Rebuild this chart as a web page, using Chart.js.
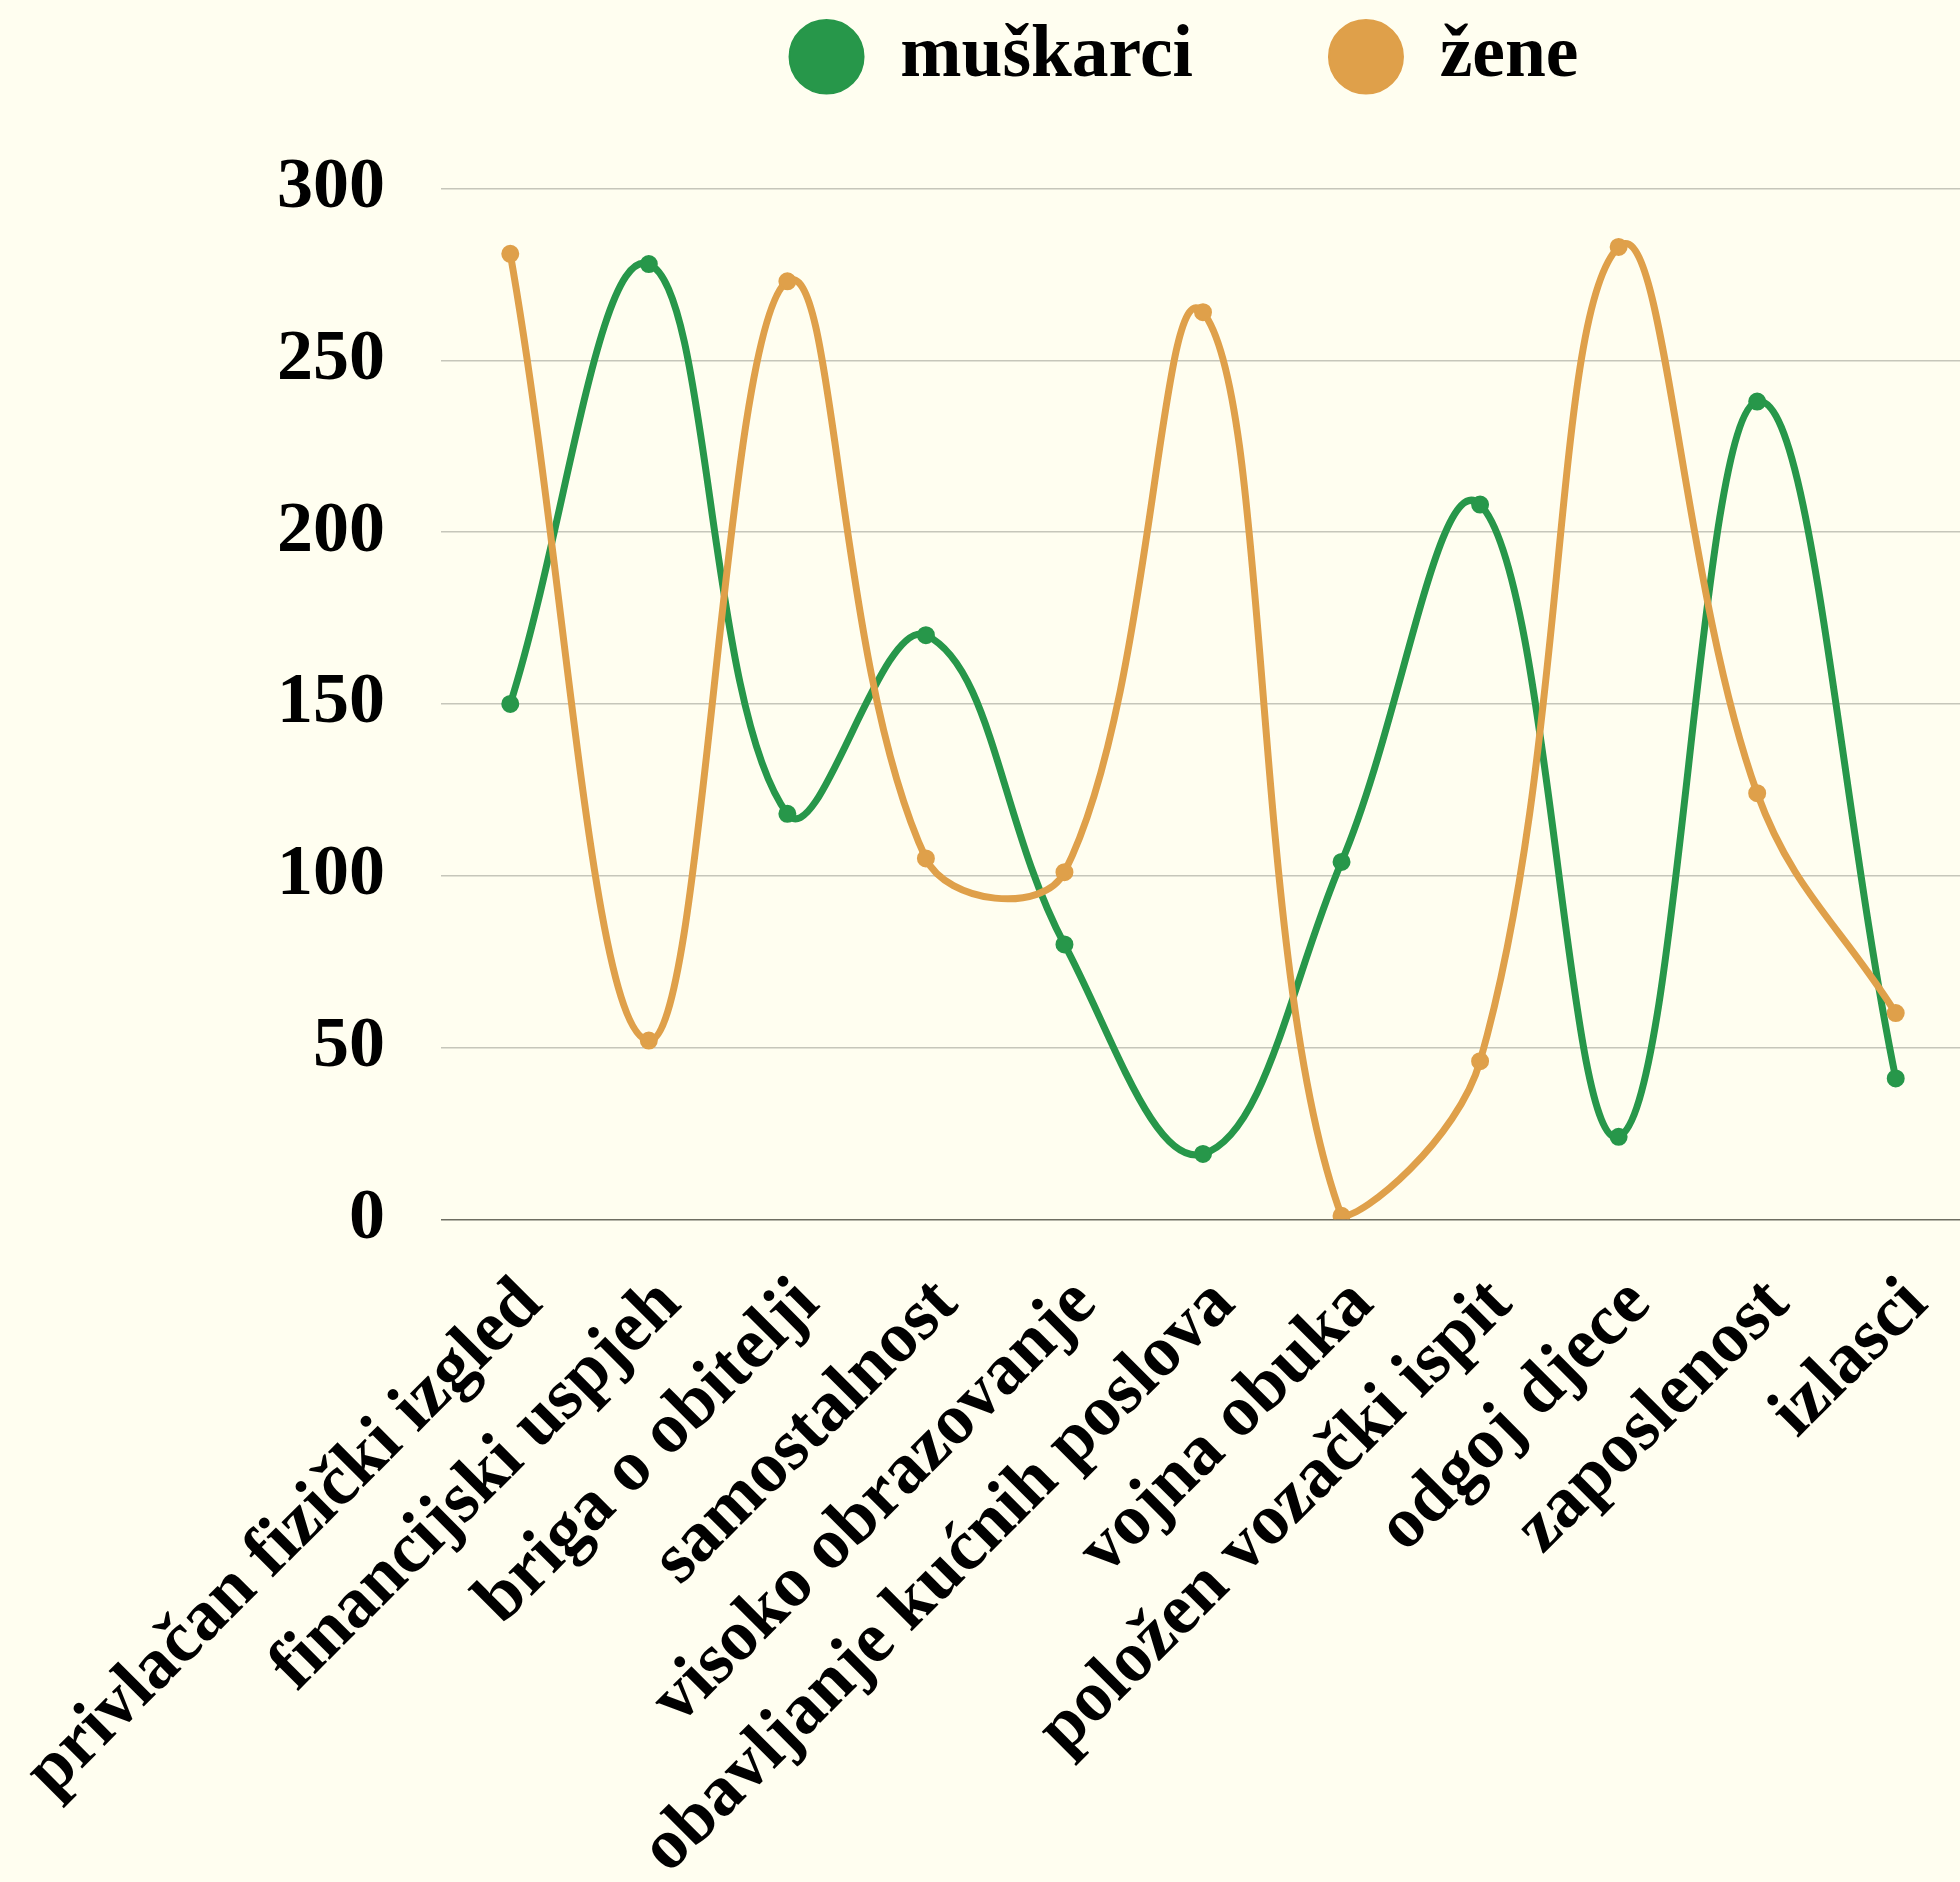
<!DOCTYPE html>
<html>
<head>
<meta charset="utf-8">
<script src="https://cdn.jsdelivr.net/npm/chart.js@4.4.0/dist/chart.umd.min.js"></script>
<style>
  html, body { margin: 0; padding: 0; background: #FFFEF0; overflow: hidden; }
  #wrap { width: 1965px; height: 1882px; position: relative; }
</style>
</head>
<body>
<div id="wrap"><canvas id="chart"></canvas></div>
<script>
// Chart data
const categories = [
    'privlačan fizički izgled',
    'financijski uspjeh',
    'briga o obitelji',
    'samostalnost',
    'visoko obrazovanje',
    'obavljanje kućnih poslova',
    'vojna obuka',
    'položen vozački ispit',
    'odgoj djece',
    'zaposlenost',
    'izlasci'
];
const seriesNames = ['muškarci', 'žene'];
const muskarci = [150, 278, 118, 170, 80, 19, 104, 208, 24, 238, 41];
const zene = [281, 52, 273, 105, 101, 264, 1, 46, 283, 124, 60];
const yTicks = [0, 50, 100, 150, 200, 250, 300];

const GREEN = '#27974A';
const ORANGE = '#DFA04A';

Chart.defaults.font.family = '"Liberation Serif", "Times New Roman", serif';
Chart.defaults.font.weight = 'bold';
Chart.defaults.font.size = 72;
Chart.defaults.color = '#000';

// extra room between the legend and the plot area, legend nudged left a bit
const legendGap = {
    id: 'legendGap',
    beforeInit(chart) {
        const fit = chart.legend.fit;
        chart.legend.fit = function () {
            fit.call(this);
            this.height += 85;
        };
    },
    afterLayout(chart) {
        chart.legend.left -= 19;
        chart.legend.right -= 19;
    }
};

function lineDataset(label, data, color, order) {
    return {
        label: label,
        data: data,
        order: order,
        borderColor: color,
        backgroundColor: color,
        pointBackgroundColor: color,
        pointBorderColor: color,
        borderWidth: 7,
        pointRadius: 8,
        pointBorderWidth: 2,
        tension: 0.4,
        fill: false
    };
}

new Chart(document.getElementById('chart'), {
    type: 'line',
    data: {
        labels: categories,
        datasets: [
            // women's line is drawn on top
            lineDataset(seriesNames[0], muskarci, GREEN, 1),
            lineDataset(seriesNames[1], zene, ORANGE, 0)
        ]
    },
    plugins: [legendGap],
    options: {
        responsive: true,
        maintainAspectRatio: false,
        animation: false,
        layout: {
            autoPadding: false,
            padding: { top: -116, right: 0, left: 0, bottom: -10 }
        },
        plugins: {
            legend: {
                position: 'top',
                fullSize: false,
                labels: {
                    usePointStyle: true,
                    pointStyle: 'circle',
                    boxHeight: 52,
                    pointStyleWidth: 74,
                    padding: 136,
                    sort: (a, b) => a.datasetIndex - b.datasetIndex,
                    font: { size: 73.5, weight: 'bold' }
                }
            },
            tooltip: { enabled: false }
        },
        scales: {
            x: {
                offset: true,
                grid: { display: false, drawTicks: true, tickLength: 43 },
                border: { display: false },
                afterFit: (scale) => {
                    scale.paddingLeft = 0;
                    scale.paddingRight = 0;
                },
                ticks: {
                    autoSkip: false,
                    minRotation: 45,
                    maxRotation: 45,
                    padding: 0,
                    labelOffset: 21,
                    font: { size: 72, weight: 'bold' }
                }
            },
            y: {
                min: 0,
                max: 300,
                afterBuildTicks: (scale) => {
                    scale.ticks = yTicks.map(v => ({ value: v }));
                },
                afterFit: (scale) => {
                    scale.width = 441;
                },
                border: { display: false },
                grid: {
                    drawTicks: false,
                    lineWidth: 1.5,
                    color: (ctx) => ctx.tick && ctx.tick.value === 0 ? '#6E6E62' : '#C6C6BA'
                },
                ticks: {
                    padding: 56,
                    font: { size: 72, weight: 'bold' }
                }
            }
        }
    }
});
</script>
</body>
</html>
